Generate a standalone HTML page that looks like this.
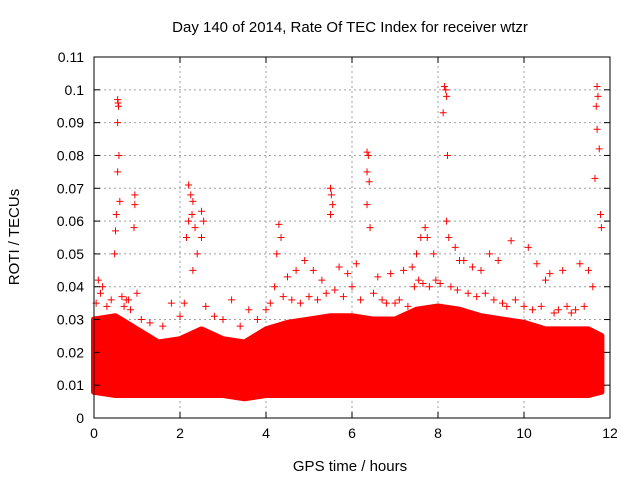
<!DOCTYPE html>
<html><head><meta charset="utf-8"><style>
body{margin:0;background:#fff}
svg{display:block;font-family:"Liberation Sans",sans-serif}
</style></head><body>
<svg id="chart" width="640" height="480">
<text x="350" y="32" text-anchor="middle" font-size="15">Day 140 of 2014, Rate Of TEC Index for receiver wtzr</text>
<text x="350" y="471" text-anchor="middle" font-size="15">GPS time / hours</text>
<text transform="translate(19,237) rotate(-90)" text-anchor="middle" font-size="15">ROTI / TECUs</text>
<g id="grid"></g><g id="band"></g><g id="pts"></g><g id="axes"></g>
</svg>
<script>
const xTicks=[0,2,4,6,8,10,12];
const yTicks=[0,0.01,0.02,0.03,0.04,0.05,0.06,0.07,0.08,0.09,0.1,0.11];
const bandTimes=[0,0.5,1,1.5,2,2.5,3,3.5,4,4.5,5,5.5,6,6.5,7,7.5,8,8.5,9,9.5,10,10.5,11,11.5,11.8];
const bandUpper=[0.03,0.031,0.027,0.023,0.024,0.027,0.024,0.023,0.027,0.029,0.03,0.031,0.031,0.03,0.03,0.033,0.034,0.033,0.031,0.03,0.029,0.027,0.027,0.027,0.025];
const bandLower=[0.008,0.007,0.007,0.007,0.007,0.007,0.007,0.006,0.007,0.007,0.007,0.007,0.007,0.007,0.007,0.007,0.007,0.007,0.007,0.007,0.007,0.007,0.007,0.007,0.008];
const spikeTimes=[0.55,0.56,0.57,0.55,0.58,0.55,0.6,0.52,0.5,0.48,0.95,0.95,0.93,2.2,2.25,2.3,2.28,2.2,2.35,2.15,2.4,2.3,2.5,2.55,2.5,4.3,4.35,4.25,5.5,5.52,5.55,5.5,6.35,6.38,6.35,6.4,6.35,6.42,7.7,7.75,8.15,8.18,8.2,8.12,8.22,8.2,8.25,11.7,11.72,11.68,11.7,11.75,11.65,11.78,11.8,0.1,0.2,0.8,1.0,1.8,3.2,3.6,4.2,4.7,4.9,5.1,5.3,5.7,5.9,6.1,6.6,6.9,7.2,7.4,7.6,7.9,8.4,8.6,8.8,9.2,9.4,9.7,10.1,10.3,10.6,10.9,11.3,11.5,7.5,8.5,9.0,10.5,4.5,6.0,
0.05,0.15,0.3,0.4,0.65,0.7,0.75,0.85,1.1,1.3,1.6,2.0,2.1,2.6,2.8,3.0,3.4,3.8,4.0,4.1,4.4,4.6,4.8,5.0,5.2,5.4,5.6,5.8,6.2,6.5,6.7,6.8,7.0,7.1,7.3,7.45,7.55,7.65,7.8,7.95,8.05,8.3,8.45,8.7,8.9,9.1,9.3,9.5,9.6,9.8,10.0,10.2,10.4,10.7,10.8,11.0,11.1,11.2,11.4,11.6];
const spikeValues=[0.097,0.096,0.095,0.09,0.08,0.075,0.066,0.062,0.057,0.05,0.068,0.065,0.058,0.071,0.068,0.066,0.062,0.06,0.058,0.055,0.05,0.045,0.063,0.06,0.055,0.059,0.055,0.05,0.07,0.068,0.065,0.062,0.081,0.08,0.075,0.072,0.065,0.058,0.058,0.055,0.101,0.1,0.098,0.093,0.08,0.06,0.055,0.101,0.098,0.095,0.088,0.082,0.073,0.062,0.058,0.042,0.04,0.036,0.038,0.035,0.036,0.033,0.04,0.045,0.048,0.045,0.042,0.046,0.044,0.047,0.043,0.044,0.045,0.046,0.055,0.05,0.052,0.048,0.046,0.05,0.048,0.054,0.052,0.047,0.044,0.045,0.047,0.045,0.05,0.048,0.045,0.042,0.043,0.04,
0.035,0.038,0.034,0.036,0.037,0.034,0.036,0.033,0.03,0.029,0.028,0.031,0.035,0.034,0.031,0.03,0.028,0.03,0.033,0.035,0.037,0.036,0.035,0.037,0.036,0.038,0.039,0.037,0.036,0.038,0.036,0.035,0.035,0.036,0.034,0.04,0.042,0.041,0.04,0.042,0.041,0.04,0.039,0.038,0.037,0.038,0.036,0.035,0.034,0.036,0.034,0.033,0.034,0.032,0.033,0.034,0.032,0.033,0.034,0.04];
const X0=94,X1=610,Y0=418,Y1=57;
const xs=v=>X0+(v/12)*(X1-X0), ys=v=>Y0-(v/0.11)*(Y0-Y1);
const NS="http://www.w3.org/2000/svg";
function mk(t,a,p){const e=document.createElementNS(NS,t);for(const k in a)e.setAttribute(k,a[k]);p.appendChild(e);return e;}
const grid=document.getElementById('grid'),axes=document.getElementById('axes'),band=document.getElementById('band'),pts=document.getElementById('pts');
xTicks.forEach(t=>{const x=xs(t);
 if(t>0&&t<12){const l=mk('line',{x1:x,x2:x,y1:Y0,y2:Y1,stroke:'#a0a0a0','stroke-dasharray':'2,3'},grid);
 
 }
 const tx=mk('text',{x:x,y:Y0+20,'text-anchor':'middle','font-size':14},axes);tx.textContent=t;
 
 
 mk('line',{x1:x,x2:x,y1:Y0,y2:Y0-6,stroke:'#000'},axes);mk('line',{x1:x,x2:x,y1:Y1,y2:Y1+6,stroke:'#000'},axes);});
yTicks.forEach(t=>{const y=ys(t);
 if(t>0&&t<0.11){const l=mk('line',{x1:X0,x2:X1,y1:y,y2:y,stroke:'#a0a0a0','stroke-dasharray':'2,3'},grid);
 
 }
 const tx=mk('text',{x:X0-10,y:y+5,'text-anchor':'end','font-size':14},axes);tx.textContent=String(t);
 
 
 mk('line',{x1:X0,x2:X0+6,y1:y,y2:y,stroke:'#000'},axes);mk('line',{x1:X1,x2:X1-6,y1:y,y2:y,stroke:'#000'},axes);});
const frame=mk('rect',{x:X0,y:Y1,width:X1-X0,height:Y0-Y1,fill:'none',stroke:'#000'},axes);


let d='';bandTimes.forEach((t,i)=>{d+=(i?'L':'M')+xs(t)+','+ys(bandUpper[i]);});
for(let i=bandTimes.length-1;i>=0;i--)d+='L'+xs(bandTimes[i])+','+ys(bandLower[i]);
const bp=mk('path',{d:d+'Z',fill:'#ff0000',stroke:'#ff0000','stroke-width':6,'stroke-linejoin':'round'},band);


spikeTimes.forEach((t,i)=>{const x=xs(t),y=ys(spikeValues[i]);
 const p=mk('path',{d:`M${x-3.5},${y}H${x+3.5}M${x},${y-3.5}V${y+3.5}`,stroke:'#ff0000','stroke-width':1},pts);
 
 });
</script>
</body></html>
